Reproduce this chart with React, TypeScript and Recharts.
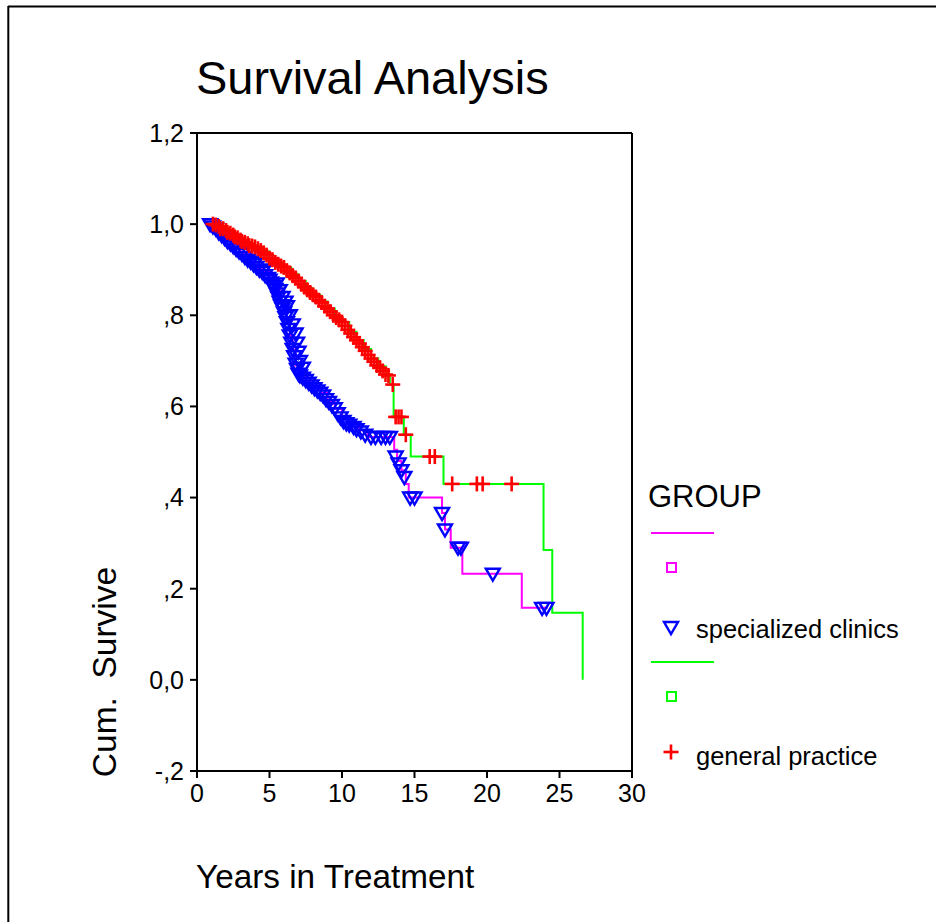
import React from "react"
import { ComposedChart, Line, Scatter, XAxis, YAxis, ReferenceLine } from "recharts"

// Kaplan-Meier step points: [years, cum. survival]
const clinicSteps: [number, number][] = [
  [0.8, 1.0], [1.5, 0.98], [2.0, 0.965], [2.5, 0.95], [3.0, 0.937], [3.5, 0.922],
  [4.0, 0.908], [4.5, 0.895], [5.0, 0.878], [5.4, 0.86], [5.7, 0.83], [6.0, 0.805],
  [6.2, 0.785], [6.4, 0.755], [6.6, 0.725], [6.8, 0.69], [7.0, 0.67], [7.5, 0.657],
  [8.0, 0.643], [8.5, 0.63], [9.0, 0.612], [9.5, 0.595], [10.0, 0.573], [10.5, 0.56],
  [11.2, 0.548], [11.8, 0.533], [13.6, 0.505], [13.8, 0.48], [14.1, 0.46], [14.4, 0.43],
  [14.6, 0.4], [16.9, 0.366], [17.1, 0.33], [17.5, 0.29], [18.3, 0.233], [22.4, 0.158],
  [24.2, 0.158],
]

const practiceSteps: [number, number][] = [
  [1.0, 1.0], [1.5, 0.995], [2.0, 0.986], [2.5, 0.976], [3.0, 0.965], [3.5, 0.957],
  [4.0, 0.95], [4.5, 0.94], [5.0, 0.925], [5.5, 0.914], [6.0, 0.905], [6.5, 0.89],
  [7.0, 0.875], [7.5, 0.859], [8.0, 0.845], [8.5, 0.83], [9.0, 0.815], [9.5, 0.798],
  [10.0, 0.785], [10.5, 0.764], [11.0, 0.745], [11.5, 0.726], [12.0, 0.705], [12.5, 0.688],
  [13.0, 0.67], [13.3, 0.648], [13.56, 0.577], [14.26, 0.538], [14.74, 0.49], [17.0, 0.43],
  [23.9, 0.285], [24.5, 0.147], [26.6, 0.0],
]

// censored cases
const clinicCensored: [number, number][] = [
  [0.9, 1.0], [1.1, 0.995], [1.3, 0.99], [1.5, 0.982], [1.7, 0.976], [1.9, 0.97],
  [2.1, 0.963], [2.3, 0.958], [2.5, 0.952], [2.7, 0.946], [2.9, 0.94], [3.1, 0.935],
  [3.3, 0.928], [3.5, 0.922], [3.7, 0.918], [3.9, 0.912], [4.0, 0.915], [4.1, 0.906],
  [4.3, 0.9], [4.5, 0.895], [4.6, 0.9], [4.7, 0.888], [4.9, 0.882], [5.0, 0.878],
  [5.1, 0.872], [5.2, 0.868], [5.3, 0.864], [5.4, 0.858], [5.5, 0.848], [5.5, 0.87],
  [5.6, 0.84], [5.7, 0.83], [5.7, 0.855], [5.8, 0.822], [5.9, 0.815], [5.9, 0.84],
  [6.0, 0.806], [6.1, 0.796], [6.1, 0.83], [6.2, 0.785], [6.2, 0.82], [6.3, 0.77],
  [6.4, 0.756], [6.4, 0.8], [6.5, 0.74], [6.6, 0.726], [6.6, 0.78], [6.7, 0.71],
  [6.8, 0.694], [6.8, 0.76], [6.9, 0.682], [6.9, 0.74], [7.0, 0.672], [7.0, 0.72],
  [7.1, 0.668], [7.1, 0.7], [7.3, 0.663], [7.3, 0.685], [7.5, 0.658], [7.7, 0.652],
  [7.9, 0.646], [8.1, 0.64], [8.3, 0.635], [8.5, 0.63], [8.7, 0.624], [8.9, 0.616],
  [9.1, 0.61], [9.3, 0.603], [9.5, 0.596], [9.7, 0.585], [9.9, 0.576], [10.1, 0.568],
  [10.3, 0.563], [10.5, 0.56], [10.8, 0.555], [11.0, 0.55], [11.3, 0.545], [11.6, 0.538],
  [12.0, 0.533], [12.3, 0.533], [12.7, 0.533], [13.0, 0.533], [13.3, 0.533], [13.7, 0.49],
  [13.9, 0.475], [14.1, 0.46], [14.3, 0.445], [14.7, 0.4], [15.0, 0.4], [16.9, 0.366],
  [17.1, 0.33], [18.0, 0.29], [18.2, 0.29], [20.4, 0.233], [23.8, 0.158], [24.1, 0.158],
]

const practiceCensored: [number, number][] = [
  [1.1, 1.0], [1.3, 0.998], [1.5, 0.995], [1.6, 0.99], [1.8, 0.99], [2.0, 0.986],
  [2.1, 0.982], [2.3, 0.98], [2.5, 0.976], [2.6, 0.972], [2.8, 0.97], [3.0, 0.965],
  [3.1, 0.962], [3.3, 0.96], [3.5, 0.957], [3.6, 0.953], [3.8, 0.952], [4.0, 0.95],
  [4.2, 0.946], [4.4, 0.942], [4.6, 0.937], [4.8, 0.932], [5.0, 0.925], [5.2, 0.922],
  [5.4, 0.916], [5.6, 0.912], [5.8, 0.908], [6.0, 0.905], [6.2, 0.898], [6.4, 0.893],
  [6.6, 0.887], [6.8, 0.882], [7.0, 0.875], [7.2, 0.868], [7.4, 0.862], [7.6, 0.856],
  [7.8, 0.85], [8.0, 0.845], [8.2, 0.84], [8.4, 0.833], [8.6, 0.828], [8.8, 0.82],
  [9.0, 0.815], [9.2, 0.808], [9.4, 0.8], [9.6, 0.795], [9.8, 0.79], [10.0, 0.785],
  [10.2, 0.777], [10.4, 0.768], [10.6, 0.76], [10.8, 0.752], [11.0, 0.745], [11.2, 0.738],
  [11.4, 0.73], [11.6, 0.722], [11.8, 0.713], [12.0, 0.705], [12.2, 0.698], [12.4, 0.69],
  [12.6, 0.685], [12.8, 0.678], [13.0, 0.67], [13.2, 0.668], [13.5, 0.648], [13.7, 0.577],
  [13.9, 0.577], [14.1, 0.577], [14.4, 0.538], [16.05, 0.49], [16.4, 0.49], [17.6, 0.43],
  [19.3, 0.43], [19.7, 0.43], [21.7, 0.43],
]

const xTicks = [0, 5, 10, 15, 20, 25, 30]
const yTicks = [-0.2, 0, 0.2, 0.4, 0.6, 0.8, 1.0, 1.2]
const yTickLabels = ["-,2", "0,0", ",2", ",4", ",6", ",8", "1,0", "1,2"]

const FONT = "'Liberation Sans', Arial, sans-serif"
const MAGENTA = "#ff00ff"
const GREEN = "#00ff00"
const BLUE = "#0000ff"
const RED = "#ff0000"

const toRows = (pts: [number, number][]) => pts.map(([t, s]) => ({ t, s }))

const yLabel = (v: number) => {
  const i = yTicks.findIndex((t) => Math.abs(t - v) < 1e-6)
  return i >= 0 ? yTickLabels[i] : String(v)
}

function Triangle({ cx, cy }: any) {
  if (cx == null || cy == null) return null
  return (
    <polygon
      points={`${cx - 7},${cy - 5} ${cx + 7},${cy - 5} ${cx},${cy + 7}`}
      fill="none"
      stroke={BLUE}
      strokeWidth={2.4}
    />
  )
}

function Plus({ cx, cy }: any) {
  if (cx == null || cy == null) return null
  return (
    <g stroke={RED} strokeWidth={2.6}>
      <line x1={cx - 7.5} x2={cx + 7.5} y1={cy} y2={cy} />
      <line x1={cx} x2={cx} y1={cy - 7.5} y2={cy + 7.5} />
    </g>
  )
}

function Overlay() {
  return (
    <svg width={936} height={922} style={{ position: "absolute", left: 0, top: 0, pointerEvents: "none" }}>
      <line x1={8} x2={936} y1={6.5} y2={6.5} stroke="#000" strokeWidth={2} />
      <line x1={8.3} x2={8.3} y1={6} y2={922} stroke="#000" strokeWidth={2} />
      <g fontFamily={FONT} fill="#000">
        <text x={196} y={94} fontSize={47}>Survival Analysis</text>
        <text x={196} y={888} fontSize={33.3}>Years in Treatment</text>
        <text
          x={116}
          y={672}
          fontSize={33.5}
          textAnchor="middle"
          style={{ whiteSpace: "pre" }}
          transform="rotate(-90 116 672)"
        >
          Cum.  Survive
        </text>
        <text x={648} y={507} fontSize={31}>GROUP</text>
        <text x={696} y={638} fontSize={25.5}>specialized clinics</text>
        <text x={696} y={765} fontSize={25.5}>general practice</text>
      </g>
      <line x1={651} x2={714} y1={533} y2={533} stroke={MAGENTA} strokeWidth={2} />
      <rect x={667} y={563} width={9} height={9} fill="none" stroke={MAGENTA} strokeWidth={2} />
      <Triangle cx={671} cy={627} />
      <line x1={651} x2={714} y1={662} y2={662} stroke={GREEN} strokeWidth={2} />
      <rect x={667} y={692} width={9} height={9} fill="none" stroke={GREEN} strokeWidth={2} />
      <Plus cx={671} cy={752} />
    </svg>
  )
}

export default function App() {
  const axisStyle = { stroke: "#000", strokeWidth: 2 }
  const tickStyle = { fill: "#000", fontSize: 25, fontFamily: FONT }
  return (
    <div style={{ position: "absolute", left: 0, top: 0, width: 936, height: 922, background: "#fff" }}>
      <ComposedChart
        width={936}
        height={922}
        margin={{ top: 133, right: 304, left: 137, bottom: 111 }}
      >
        <XAxis
          type="number"
          dataKey="t"
          domain={[0, 30]}
          ticks={xTicks}
          allowDataOverflow
          height={40}
          tickSize={7}
          tickMargin={6}
          axisLine={axisStyle}
          tickLine={axisStyle}
          tick={tickStyle}
        />
        <YAxis
          type="number"
          dataKey="s"
          domain={[-0.2, 1.2]}
          ticks={yTicks}
          allowDataOverflow
          width={60}
          tickSize={7}
          tickMargin={6}
          tickFormatter={yLabel}
          axisLine={axisStyle}
          tickLine={axisStyle}
          tick={tickStyle}
        />
        <ReferenceLine y={1.2} stroke="#000" strokeWidth={2} />
        <ReferenceLine x={30} stroke="#000" strokeWidth={2} />
        <Line
          data={toRows(clinicSteps)}
          dataKey="s"
          type="stepAfter"
          stroke={MAGENTA}
          strokeWidth={2}
          dot={false}
          activeDot={false}
          isAnimationActive={false}
        />
        <Line
          data={toRows(practiceSteps)}
          dataKey="s"
          type="stepAfter"
          stroke={GREEN}
          strokeWidth={2}
          dot={false}
          activeDot={false}
          isAnimationActive={false}
        />
        <Scatter data={toRows(clinicCensored)} shape={<Triangle />} isAnimationActive={false} />
        <Scatter data={toRows(practiceCensored)} shape={<Plus />} isAnimationActive={false} />
      </ComposedChart>
      <Overlay />
    </div>
  )
}
